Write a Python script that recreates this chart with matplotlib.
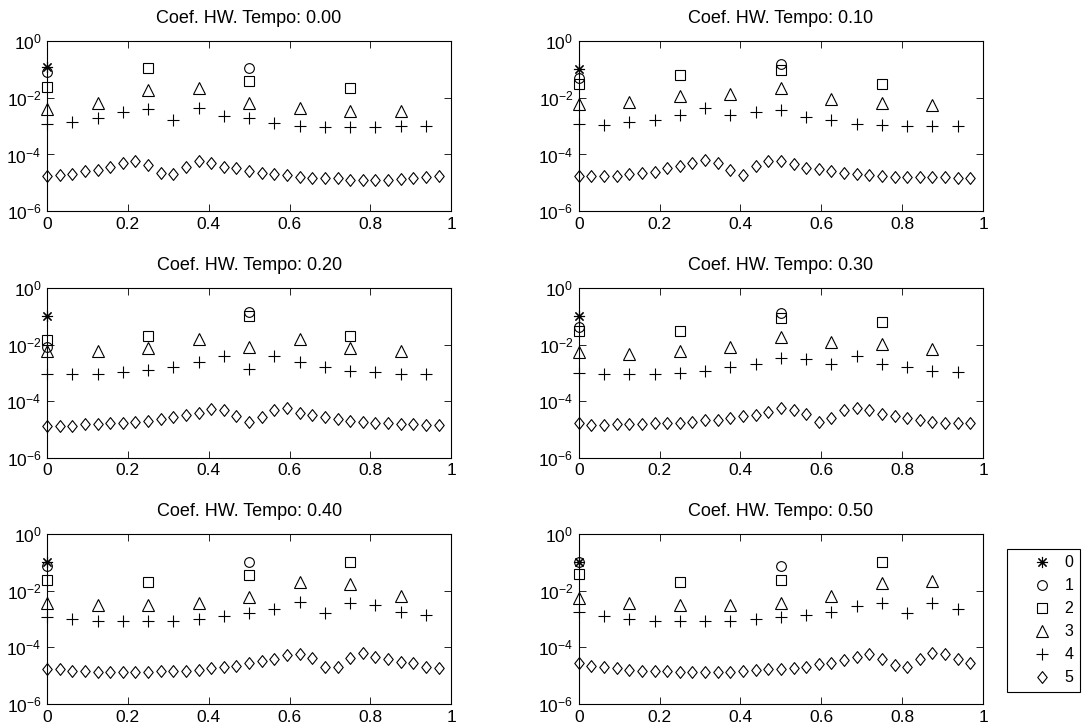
import matplotlib
matplotlib.use("Agg")
import matplotlib.pyplot as plt
import numpy as np
from matplotlib.path import Path

plt.rcParams['font.family'] = ['Liberation Sans', 'DejaVu Sans']
plt.rcParams['mathtext.fontset'] = 'custom'
plt.rcParams['mathtext.rm'] = 'Liberation Sans'
plt.rcParams['mathtext.it'] = 'Liberation Sans:italic'

tempos = ["0.00", "0.10", "0.20", "0.30", "0.40", "0.50"]

# level 0: one coefficient (x = 0)
lvl0 = [0.12, 0.10, 0.10, 0.10, 0.10, 0.105]

# level 1: x = 0, 0.5
lvl1 = [
    [0.08, 0.11],
    [0.048, 0.15],
    [0.008, 0.14],
    [0.042, 0.13],
    [0.074, 0.105],
    [0.10, 0.074],
]

# level 2: x = 0, 0.25, 0.5, 0.75
lvl2 = [
    [0.025, 0.11, 0.04, 0.022],
    [0.03, 0.066, 0.095, 0.03],
    [0.0145, 0.02, 0.10, 0.02],
    [0.029, 0.029, 0.085, 0.063],
    [0.024, 0.0196, 0.036, 0.105],
    [0.038, 0.021, 0.024, 0.105],
]

# level 3: x = k/8
lvl3 = [
    [0.0041, 0.0068, 0.019, 0.023, 0.0065, 0.0043, 0.0033, 0.0033],
    [0.0058, 0.007, 0.0115, 0.014, 0.022, 0.0092, 0.0066, 0.0054],
    [0.0059, 0.0059, 0.0078, 0.016, 0.0082, 0.016, 0.0078, 0.0059],
    [0.0054, 0.0047, 0.0061, 0.008, 0.019, 0.012, 0.0105, 0.0069],
    [0.0038, 0.0031, 0.0031, 0.0038, 0.0058, 0.021, 0.017, 0.0065],
    [0.0056, 0.0038, 0.0031, 0.0031, 0.0038, 0.0065, 0.018, 0.022],
]

# level 4: x = k/16
lvl4 = [
    [0.0012, 0.00145, 0.0019, 0.0031, 0.0040, 0.0017, 0.0043, 0.0023,
     0.0019, 0.0013, 0.00105, 0.00096, 0.00096, 0.00096, 0.001, 0.001],
    [0.00115, 0.0011, 0.0014, 0.0016, 0.0024, 0.0044, 0.0024, 0.0032,
     0.0037, 0.0021, 0.0017, 0.0012, 0.0011, 0.001, 0.001, 0.001],
    [0.0009, 0.0009, 0.0009, 0.0011, 0.00126, 0.00166, 0.0025, 0.004,
     0.00135, 0.004, 0.0025, 0.00166, 0.0012, 0.00105, 0.0009, 0.0009],
    [0.001, 0.0009, 0.0009, 0.0009, 0.001, 0.0012, 0.0016, 0.002,
     0.0034, 0.0031, 0.0021, 0.0041, 0.0021, 0.0016, 0.0012, 0.00104],
    [0.0012, 0.00098, 0.00087, 0.00087, 0.00087, 0.00087, 0.00098, 0.0013,
     0.0016, 0.0023, 0.0041, 0.0016, 0.0038, 0.003, 0.0018, 0.0014],
    [0.0017, 0.0013, 0.00098, 0.00087, 0.00087, 0.00087, 0.00087, 0.00098,
     0.0012, 0.0014, 0.0018, 0.0029, 0.0037, 0.0016, 0.0038, 0.0022],
]

# level 5: x = k/32
lvl5 = [
    [1.7e-5, 1.9e-5, 2.1e-5, 2.6e-5, 2.75e-5, 3.6e-5, 4.8e-5, 5.8e-5,
     4.2e-5, 2.2e-5, 2.0e-5, 3.6e-5, 6.0e-5, 5.0e-5, 3.6e-5, 3.2e-5,
     2.6e-5, 2.2e-5, 2.1e-5, 1.9e-5, 1.6e-5, 1.5e-5, 1.5e-5, 1.5e-5,
     1.3e-5, 1.3e-5, 1.3e-5, 1.3e-5, 1.4e-5, 1.5e-5, 1.6e-5, 1.7e-5],
    [1.7e-5, 1.7e-5, 1.75e-5, 1.8e-5, 2.1e-5, 2.2e-5, 2.5e-5, 3.2e-5,
     3.9e-5, 5.1e-5, 6.3e-5, 5.1e-5, 2.75e-5, 1.95e-5, 3.9e-5, 5.8e-5,
     5.8e-5, 4.5e-5, 3.2e-5, 2.95e-5, 2.6e-5, 2.2e-5, 2.1e-5, 1.9e-5,
     1.7e-5, 1.65e-5, 1.6e-5, 1.55e-5, 1.55e-5, 1.55e-5, 1.5e-5, 1.5e-5],
    [1.35e-5, 1.3e-5, 1.35e-5, 1.55e-5, 1.55e-5, 1.7e-5, 1.7e-5, 1.8e-5,
     1.95e-5, 2.3e-5, 2.7e-5, 3.3e-5, 4.0e-5, 5.5e-5, 5.0e-5, 3.1e-5,
     1.8e-5, 2.7e-5, 5.0e-5, 5.8e-5, 4.0e-5, 3.3e-5, 2.7e-5, 2.3e-5,
     2.0e-5, 1.8e-5, 1.65e-5, 1.65e-5, 1.55e-5, 1.55e-5, 1.45e-5, 1.45e-5],
    [1.65e-5, 1.5e-5, 1.5e-5, 1.55e-5, 1.55e-5, 1.55e-5, 1.65e-5, 1.65e-5,
     1.65e-5, 1.9e-5, 2.1e-5, 2.2e-5, 2.5e-5, 2.9e-5, 3.2e-5, 4.3e-5,
     5.6e-5, 5.1e-5, 3.5e-5, 1.9e-5, 2.5e-5, 4.9e-5, 6.0e-5, 4.9e-5,
     3.5e-5, 2.9e-5, 2.5e-5, 2.2e-5, 1.9e-5, 1.75e-5, 1.65e-5, 1.65e-5],
    [1.75e-5, 1.65e-5, 1.5e-5, 1.5e-5, 1.3e-5, 1.3e-5, 1.3e-5, 1.4e-5,
     1.3e-5, 1.45e-5, 1.45e-5, 1.45e-5, 1.6e-5, 1.8e-5, 2.1e-5, 2.25e-5,
     2.75e-5, 3.3e-5, 3.9e-5, 5.4e-5, 5.8e-5, 4.1e-5, 2.1e-5, 2.1e-5,
     4.1e-5, 6.2e-5, 4.7e-5, 3.8e-5, 3.1e-5, 2.75e-5, 2.1e-5, 1.8e-5],
    [2.75e-5, 2.25e-5, 1.95e-5, 1.8e-5, 1.6e-5, 1.45e-5, 1.45e-5, 1.45e-5,
     1.3e-5, 1.3e-5, 1.3e-5, 1.3e-5, 1.4e-5, 1.45e-5, 1.6e-5, 1.75e-5,
     1.75e-5, 1.9e-5, 2.1e-5, 2.5e-5, 2.9e-5, 3.5e-5, 4.5e-5, 5.8e-5,
     3.9e-5, 2.4e-5, 1.95e-5, 3.9e-5, 6.2e-5, 5.8e-5, 3.9e-5, 2.8e-5],
]

levels = [lvl0, lvl1, lvl2, lvl3, lvl4, lvl5]
level_names = ["0", "1", "2", "3", "4", "5"]

# matlab-ish diamond, a bit taller than wide
diamond = Path([(0, 1), (0.8, 0), (0, -1), (-0.8, 0), (0, 1)],
               [Path.MOVETO, Path.LINETO, Path.LINETO, Path.LINETO, Path.CLOSEPOLY])
markers = [(8, 2, 0), "o", "s", "^", "+", diamond]
msizes = [8, 7, 7, 8.5, 9, 8.5]

fig = plt.figure(figsize=(10.88, 7.28), dpi=100)

col_left = [0.0432, 0.532]
col_w = 0.3715
row_bottom = [0.710, 0.371, 0.033]
row_h = 0.2335

handles = []
for i, tempo in enumerate(tempos):
    r, c = divmod(i, 2)
    ax = fig.add_axes([col_left[c], row_bottom[r], col_w, row_h])
    for lev, (vals, m, ms) in enumerate(zip(levels, markers, msizes)):
        y = np.atleast_1d(vals[i])
        x = np.arange(len(y)) / len(y)
        h, = ax.plot(x, y, linestyle="none", marker=m, markersize=ms,
                     markerfacecolor="none", markeredgecolor="black",
                     markeredgewidth=0.8, color="black", clip_on=False)
        if i == 0:
            handles.append(h)
    ax.set_yscale("log")
    ax.set_xlim(0, 1)
    ax.set_ylim(1e-6, 1)
    ax.set_yticks([1e-6, 1e-4, 1e-2, 1e0])
    ax.minorticks_off()
    ax.set_xticks([0, 0.2, 0.4, 0.6, 0.8, 1])
    ax.set_xticklabels(["0", "0.2", "0.4", "0.6", "0.8", "1"])
    ax.tick_params(direction="in", length=5, width=0.6, top=True, right=True,
                   labelsize=12.5, pad=4)
    for s in ax.spines.values():
        s.set_linewidth(0.8)
    ax.set_title("Coef. HW. Tempo: " + tempo, fontsize=13, pad=13)

leg = fig.legend(handles, level_names, loc="upper left",
                 bbox_to_anchor=(0.9256, 0.2459), borderaxespad=0,
                 fontsize=11.5, handlelength=3.6, handletextpad=-0.4,
                 labelspacing=0.5, borderpad=0.4, fancybox=False,
                 edgecolor="black", framealpha=1)
leg.get_frame().set_linewidth(0.8)

fig.savefig("out.png", dpi=100)
